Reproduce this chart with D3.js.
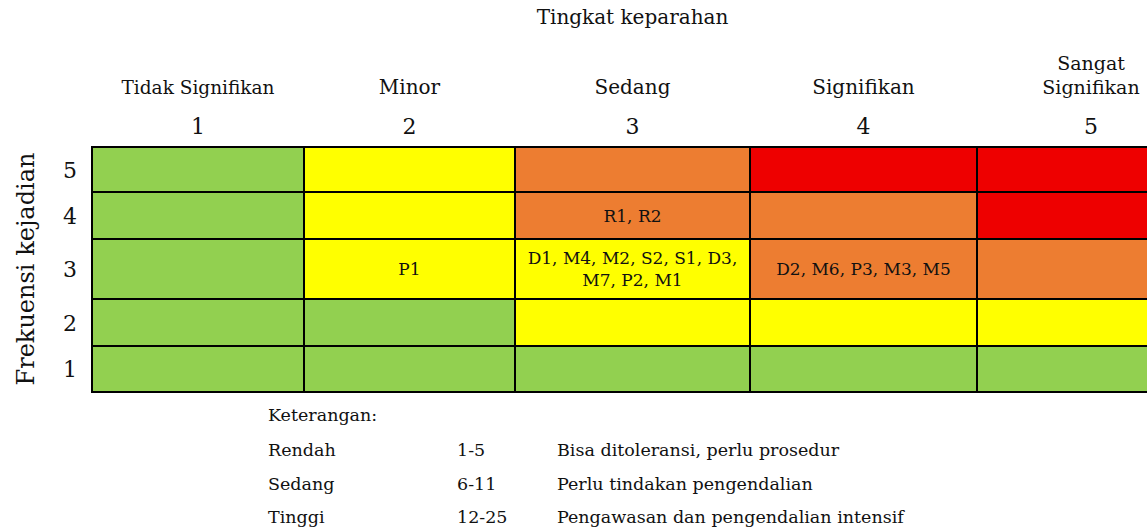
<!DOCTYPE html>
<html>
<head>
<meta charset="utf-8">
<script src="https://cdn.jsdelivr.net/npm/d3@7"></script>
<style>
  body { margin: 0; background: #fff; }
  text { font-family: "DejaVu Serif", serif; fill: #111; }
</style>
</head>
<body>
<script>
// severity (columns) and frequency (rows)
var severity = [1, 2, 3, 4, 5];
var severityNames = [["Tidak Signifikan"], ["Minor"], ["Sedang"], ["Signifikan"], ["Sangat", "Signifikan"]];
var frequency = [5, 4, 3, 2, 1];

// risk level per cell, rows from frequency 5 down to 1
var levelGrid = [
  ["rendah", "sedang", "tinggi", "ekstrem", "ekstrem"],
  ["rendah", "sedang", "tinggi", "tinggi", "ekstrem"],
  ["rendah", "sedang", "sedang", "tinggi", "tinggi"],
  ["rendah", "rendah", "sedang", "sedang", "sedang"],
  ["rendah", "rendah", "rendah", "rendah", "rendah"]
];
var levelColor = { rendah: "#92D050", sedang: "#FFFF00", tinggi: "#ED7D31", ekstrem: "#EE0000" };

// risk codes placed in the matrix: [frequency, severity, lines]
var riskCodes = [
  [4, 3, ["R1, R2"]],
  [3, 2, ["P1"]],
  [3, 3, ["D1, M4, M2, S2, S1, D3,", "M7, P2, M1"]],
  [3, 4, ["D2, M6, P3, M3, M5"]]
];

// legend rows
var legendNames = ["Rendah", "Sedang", "Tinggi"];
var legendRanges = ["1-5", "6-11", "12-25"];
var legendNotes = ["Bisa ditoleransi, perlu prosedur", "Perlu tindakan pengendalian", "Pengawasan dan pengendalian intensif"];

var width = 1147, height = 531;

var svg = d3.select("body").append("svg")
  .attr("width", width)
  .attr("height", height);

// column/row edges are uneven in the original, so use piecewise scales
var x = d3.scaleLinear()
  .domain([0.5, 1.5, 2.5, 3.5, 4.5, 5.5])
  .range([92, 304, 515, 750, 977, 1205]);
var y = d3.scaleLinear()
  .domain([5.5, 4.5, 3.5, 2.5, 1.5, 0.5])
  .range([147, 192, 239, 299, 346, 392]);

// cells
var cells = [];
frequency.forEach(function(f, i) {
  severity.forEach(function(s, j) {
    cells.push({ f: f, s: s, level: levelGrid[i][j] });
  });
});

svg.selectAll(".cell")
  .data(cells)
  .enter()
  .append("rect")
  .attr("class", "cell")
  .attr("x", function(d) { return x(d.s - 0.5); })
  .attr("y", function(d) { return y(d.f + 0.5); })
  .attr("width", function(d) { return x(d.s + 0.5) - x(d.s - 0.5); })
  .attr("height", function(d) { return y(d.f - 0.5) - y(d.f + 0.5); })
  .attr("fill", function(d) { return levelColor[d.level]; })
  .attr("stroke", "#000")
  .attr("stroke-width", 2);

// cell labels
var codes = svg.selectAll(".code")
  .data(riskCodes)
  .enter()
  .append("text")
  .attr("class", "code")
  .attr("text-anchor", "middle")
  .style("font-size", "17px");

codes.each(function(d) {
  var n = d[2].length;
  var cx = x(d[1]);
  var cy = y(d[0]);
  d3.select(this).selectAll("tspan")
    .data(d[2])
    .enter()
    .append("tspan")
    .attr("x", cx)
    .attr("y", function(t, k) { return cy + 6 + (k - (n - 1) / 2) * 22; })
    .text(function(t) { return t; });
});

// title
svg.append("text")
  .attr("x", x(3))
  .attr("y", 24)
  .attr("text-anchor", "middle")
  .style("font-size", "20px")
  .text("Tingkat keparahan");

// severity names
var names = svg.selectAll(".sevname")
  .data(severity)
  .enter()
  .append("text")
  .attr("class", "sevname")
  .attr("text-anchor", "middle");

names.each(function(d, i) {
  var lines = severityNames[i];
  var size = lines.length > 1 ? "19px" : (lines[0].length > 12 ? "18.5px" : "20px");
  d3.select(this)
    .style("font-size", size)
    .selectAll("tspan")
    .data(lines)
    .enter()
    .append("tspan")
    .attr("x", x(d))
    .attr("y", function(t, k) { return 94 - (lines.length - 1 - k) * 24; })
    .text(function(t) { return t; });
});

// severity numbers
svg.selectAll(".sevnum")
  .data(severity)
  .enter()
  .append("text")
  .attr("class", "sevnum")
  .attr("x", function(d) { return x(d); })
  .attr("y", 134)
  .attr("text-anchor", "middle")
  .style("font-size", "22px")
  .text(function(d) { return d; });

// frequency numbers
svg.selectAll(".freqnum")
  .data(frequency)
  .enter()
  .append("text")
  .attr("class", "freqnum")
  .attr("x", 70)
  .attr("y", function(d) { return y(d) + 8; })
  .attr("text-anchor", "middle")
  .style("font-size", "22px")
  .text(function(d) { return d; });

// frequency title
svg.append("text")
  .attr("transform", "translate(34," + y(3) + ") rotate(-90)")
  .attr("text-anchor", "middle")
  .style("font-size", "24px")
  .text("Frekuensi kejadian");

// legend
svg.append("text")
  .attr("x", 268)
  .attr("y", 421)
  .style("font-size", "17.5px")
  .text("Keterangan:");

var legend = svg.selectAll(".legend")
  .data(legendNames)
  .enter()
  .append("g")
  .attr("class", "legend")
  .attr("transform", function(d, i) { return "translate(0," + (456 + i * 33.5) + ")"; });

legend.append("text")
  .attr("x", 268)
  .style("font-size", "17.5px")
  .text(function(d) { return d; });
legend.append("text")
  .attr("x", 457)
  .style("font-size", "17.5px")
  .text(function(d, i) { return legendRanges[i]; });
legend.append("text")
  .attr("x", 557)
  .style("font-size", "17.5px")
  .text(function(d, i) { return legendNotes[i]; });
</script>
</body>
</html>
